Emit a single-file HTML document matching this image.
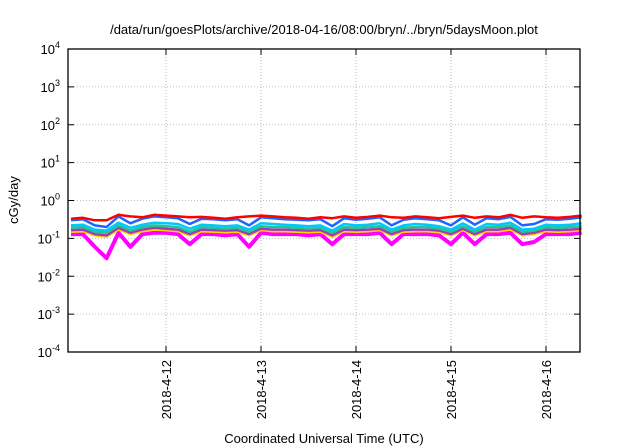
<!DOCTYPE html>
<html><head><meta charset="utf-8"><style>
body{margin:0;background:#fff;}
svg{display:block;font-family:"Liberation Sans",sans-serif;}
</style></head><body>
<svg id="chart" width="640" height="448">
<rect width="640" height="448" fill="#fff"/>
<text x="324" y="34" font-size="13" text-anchor="middle">/data/run/goesPlots/archive/2018-04-16/08:00/bryn/../bryn/5daysMoon.plot</text>
<g id="grid"></g>
<g id="series"></g>
<rect x="68" y="49" width="512" height="303" fill="none" stroke="#000" stroke-width="1.3"/>
<g id="axes"></g>
<text transform="translate(18,200) rotate(-90)" font-size="13" text-anchor="middle">cGy/day</text>
<text x="324" y="443" font-size="13" text-anchor="middle">Coordinated Universal Time (UTC)</text>
</svg>
<script>
const xTickLabels=["2018-4-12","2018-4-13","2018-4-14","2018-4-15","2018-4-16"];
const xTickDays=[1,2,3,4,5];
const yTickExps=[-4,-3,-2,-1,0,1,2,3,4];
const seriesNames=["red","blue","cyan","green","purple","yellow","magenta"];
const seriesColors=["#ff0000","#1e64ff","#00c8ff","#20c890","#a03cb4","#ffd200","#ff00ff"];
const times=[0,0.125,0.25,0.375,0.5,0.625,0.75,0.875,1,1.125,1.25,1.375,1.5,1.625,1.75,1.875,2,2.125,2.25,2.375,2.5,2.625,2.75,2.875,3,3.125,3.25,3.375,3.5,3.625,3.75,3.875,4,4.125,4.25,4.375,4.5,4.625,4.75,4.875,5,5.125,5.25,5.375];
const red=[0.33,0.35,0.30,0.30,0.42,0.38,0.36,0.42,0.40,0.38,0.36,0.37,0.35,0.33,0.36,0.38,0.40,0.38,0.36,0.35,0.33,0.36,0.34,0.38,0.35,0.37,0.40,0.36,0.35,0.38,0.36,0.34,0.37,0.40,0.35,0.38,0.36,0.42,0.35,0.38,0.36,0.35,0.37,0.40];
const blue=[0.30,0.32,0.22,0.20,0.38,0.25,0.33,0.38,0.36,0.34,0.24,0.33,0.32,0.30,0.32,0.22,0.36,0.34,0.32,0.31,0.30,0.32,0.21,0.34,0.31,0.33,0.36,0.22,0.31,0.34,0.32,0.30,0.22,0.36,0.23,0.34,0.32,0.37,0.22,0.24,0.32,0.31,0.33,0.36];
const cyan=[0.22,0.23,0.17,0.16,0.26,0.19,0.23,0.26,0.25,0.24,0.18,0.23,0.22,0.21,0.22,0.17,0.25,0.24,0.23,0.22,0.21,0.22,0.16,0.24,0.22,0.23,0.25,0.17,0.22,0.24,0.23,0.21,0.17,0.25,0.17,0.24,0.23,0.26,0.17,0.18,0.23,0.22,0.23,0.25];
const green=[0.19,0.20,0.15,0.14,0.22,0.16,0.20,0.22,0.21,0.20,0.15,0.20,0.19,0.18,0.19,0.15,0.21,0.20,0.20,0.19,0.18,0.19,0.14,0.20,0.19,0.20,0.21,0.15,0.19,0.20,0.20,0.18,0.15,0.21,0.15,0.20,0.20,0.22,0.15,0.16,0.20,0.19,0.20,0.21];
const purple=[0.165,0.17,0.13,0.12,0.19,0.14,0.17,0.19,0.18,0.17,0.13,0.17,0.165,0.16,0.165,0.13,0.18,0.17,0.17,0.165,0.16,0.165,0.12,0.17,0.165,0.17,0.18,0.13,0.165,0.17,0.17,0.16,0.13,0.18,0.13,0.17,0.17,0.19,0.13,0.14,0.17,0.165,0.17,0.18];
const yellow=[0.15,0.155,0.12,0.11,0.17,0.13,0.155,0.17,0.165,0.155,0.12,0.155,0.15,0.145,0.15,0.12,0.165,0.155,0.155,0.15,0.145,0.15,0.11,0.155,0.15,0.155,0.165,0.12,0.15,0.155,0.155,0.145,0.12,0.165,0.12,0.155,0.155,0.17,0.12,0.13,0.155,0.15,0.155,0.165];
const magenta=[0.13,0.13,0.06,0.03,0.14,0.06,0.13,0.14,0.14,0.13,0.07,0.13,0.13,0.12,0.13,0.06,0.14,0.13,0.13,0.13,0.12,0.13,0.07,0.13,0.13,0.13,0.14,0.07,0.13,0.13,0.13,0.12,0.07,0.14,0.07,0.13,0.13,0.14,0.07,0.08,0.13,0.13,0.13,0.14];
const allSeries=[red,blue,cyan,green,purple,yellow,magenta];
const NS="http://www.w3.org/2000/svg";
const X0=68,X1=580,Y0=352,Y1=49;
function xScale(t){return 166+(t-1)*95;}
function yScale(v){return Y0-(Math.log10(v)+4)/8*(Y0-Y1);}
function mk(tag,attrs,parent){const e=document.createElementNS(NS,tag);for(const k in attrs)e.setAttribute(k,attrs[k]);parent.appendChild(e);return e;}
const grid=document.getElementById('grid'),axes=document.getElementById('axes'),sg=document.getElementById('series');
yTickExps.forEach(function(ex){
  const y=yScale(Math.pow(10,ex));
  if(ex>-4&&ex<4){const g=mk('line',{x1:X0,x2:X1,y1:y,y2:y,stroke:'#aaa','stroke-dasharray':'1,2','stroke-width':0.8},grid);
  
  }
  mk('line',{x1:X0,x2:X0+6,y1:y,y2:y,stroke:'#000'},axes);
  mk('line',{x1:X1-6,x2:X1,y1:y,y2:y,stroke:'#000'},axes);
  const t=mk('text',{x:60,y:y+5,'font-size':13,'text-anchor':'end'},axes);
  
  
  t.textContent='10';
  const s=mk('tspan',{dy:-6,'font-size':9},t);s.textContent=String(ex);
});
xTickDays.forEach(function(d,i){
  const x=xScale(d);
  const g=mk('line',{x1:x,x2:x,y1:Y0,y2:Y1,stroke:'#aaa','stroke-dasharray':'1,2','stroke-width':0.8},grid);
  
  
  mk('line',{x1:x,x2:x,y1:Y0,y2:Y0-6,stroke:'#000'},axes);
  mk('line',{x1:x,x2:x,y1:Y1,y2:Y1+6,stroke:'#000'},axes);
  const t=mk('text',{transform:'translate('+(x+5)+',360) rotate(-90)','font-size':13,'text-anchor':'end'},axes);
  
  
  t.textContent=xTickLabels[i];
});
for(let s=allSeries.length-1;s>=0;s--){
  const vals=allSeries[s];
  const pts=times.map(function(t,i){return xScale(t).toFixed(1)+','+yScale(vals[i]).toFixed(1);}).join(' ');
  const p=mk('polyline',{points:pts,fill:'none',stroke:seriesColors[s],'stroke-width':s===6?4:2.5,'stroke-linejoin':'round'},sg);
  
  
}
</script>
</body></html>
